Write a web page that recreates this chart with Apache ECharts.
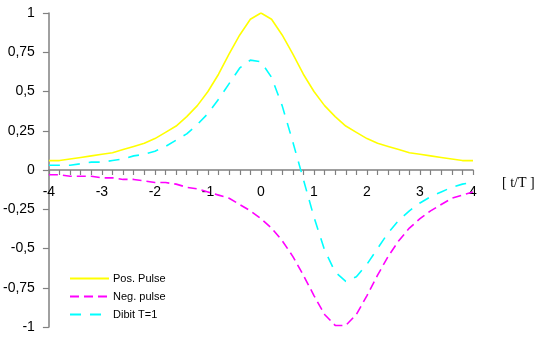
<!DOCTYPE html>
<html>
<head>
<meta charset="utf-8">
<script src="https://cdn.jsdelivr.net/npm/echarts@6/dist/echarts.min.js"></script>
<style>
  html, body { margin: 0; padding: 0; background: #fff; }
  #chart { width: 538px; height: 339px; }
</style>
</head>
<body>
<div id="chart"></div>
<script>
// t/T sample points, step 0.2
const tValues = [-4, -3.8, -3.6, -3.4, -3.2, -3, -2.8, -2.6, -2.4, -2.2, -2, -1.8, -1.6, -1.4, -1.2, -1, -0.8, -0.6, -0.4, -0.2,
  0, 0.2, 0.4, 0.6, 0.8, 1, 1.2, 1.4, 1.6, 1.8, 2, 2.2, 2.4, 2.6, 2.8, 3, 3.2, 3.4, 3.6, 3.8, 4];

const posPulse = [0.06, 0.06, 0.07, 0.08, 0.09, 0.1, 0.11, 0.13, 0.15, 0.17, 0.2, 0.24, 0.28, 0.34, 0.41, 0.5, 0.61, 0.74, 0.86, 0.96,
  1, 0.96, 0.86, 0.74, 0.61, 0.5, 0.41, 0.34, 0.28, 0.24, 0.2, 0.17, 0.15, 0.13, 0.11, 0.1, 0.09, 0.08, 0.07, 0.06, 0.06];

const negPulse = [-0.03, -0.03, -0.04, -0.04, -0.04, -0.05, -0.05, -0.06, -0.06, -0.07, -0.08, -0.08, -0.09, -0.11, -0.12, -0.14, -0.16, -0.18, -0.22, -0.26,
  -0.31, -0.37, -0.45, -0.55, -0.67, -0.8, -0.92, -0.99, -0.99, -0.92, -0.8, -0.67, -0.55, -0.45, -0.37, -0.31, -0.26, -0.22, -0.18, -0.16, -0.14];

const dibit = [0.03, 0.03, 0.03, 0.04, 0.05, 0.05, 0.06, 0.07, 0.09, 0.1, 0.12, 0.15, 0.19, 0.23, 0.29, 0.36, 0.45, 0.55, 0.65, 0.7,
  0.69, 0.59, 0.41, 0.18, -0.06, -0.3, -0.51, -0.65, -0.71, -0.68, -0.6, -0.5, -0.4, -0.32, -0.26, -0.21, -0.17, -0.14, -0.11, -0.09, -0.08];

const yTicks = [-1, -0.75, -0.5, -0.25, 0, 0.25, 0.5, 0.75, 1];

function pairs(ys) {
  return tValues.map((t, i) => [t, ys[i]]);
}

const chart = echarts.init(document.getElementById('chart'));

// 系列定义
const series = [
  {
    name: 'Pos. Pulse',
    type: 'line',
    data: pairs(posPulse),
    showSymbol: false,
    symbol: 'none',
    lineStyle: { color: '#ffff00', width: 1.6, type: 'solid' },
    itemStyle: { color: '#ffff00' }
  },
  {
    name: 'Neg. pulse',
    type: 'line',
    data: pairs(negPulse),
    showSymbol: false,
    symbol: 'none',
    lineStyle: { color: '#ff00ff', width: 1.6, type: [9, 5] },
    itemStyle: { color: '#ff00ff' }
  },
  {
    name: 'Dibit T=1',
    type: 'line',
    data: pairs(dibit),
    showSymbol: false,
    symbol: 'none',
    lineStyle: { color: '#00ffff', width: 1.6, type: [11, 9] },
    itemStyle: { color: '#00ffff' }
  }
];

chart.setOption({
  animation: false,
  backgroundColor: '#ffffff',
  title: {
    text: '[ t/T ]',
    left: 502,
    top: 176,
    padding: 0,
    textStyle: { fontFamily: 'Liberation Serif', fontSize: 14, fontWeight: 'normal', color: '#000' }
  },
  grid: { left: 48, right: 65, top: 13, bottom: 12, containLabel: false },
  legend: {
    orient: 'vertical',
    left: 69,
    top: 273,
    padding: 0,
    itemWidth: 39,
    itemHeight: 8,
    itemGap: 7,
    itemStyle: { opacity: 0 },
    textStyle: { fontFamily: 'Liberation Sans', fontSize: 11, color: '#000', padding: [0, 0, 0, -1] },
    data: ['Pos. Pulse', 'Neg. pulse', 'Dibit T=1']
  },
  xAxis: {
    type: 'value',
    min: -4,
    max: 4,
    interval: 1,
    position: 'bottom',
    offset: -157,
    axisLine: { onZero: false, lineStyle: { color: '#808080', width: 1.5 } },
    axisTick: { show: true, length: 5, lineStyle: { color: '#808080', width: 1.2 } },
    minorTick: { show: true, splitNumber: 5, length: 5, lineStyle: { color: '#808080', width: 1.2 } },
    axisLabel: { margin: 15, fontFamily: 'Liberation Sans', fontSize: 14, color: '#000' },
    splitLine: { show: false }
  },
  yAxis: {
    type: 'value',
    min: -1,
    max: 1,
    interval: 0.25,
    axisLine: { show: true, onZero: false, lineStyle: { color: '#808080', width: 1.5 } },
    axisTick: { show: true, length: 6, lineStyle: { color: '#808080', width: 1.2 } },
    axisLabel: {
      margin: 14,
      fontFamily: 'Liberation Sans',
      fontSize: 14,
      color: '#000',
      formatter: v => {
        const m = yTicks.find(t => Math.abs(t - v) < 1e-9);
        return String(m !== undefined ? m : v).replace('.', ',');
      }
    },
    splitLine: { show: false }
  },
  series
});
</script>
</body>
</html>
